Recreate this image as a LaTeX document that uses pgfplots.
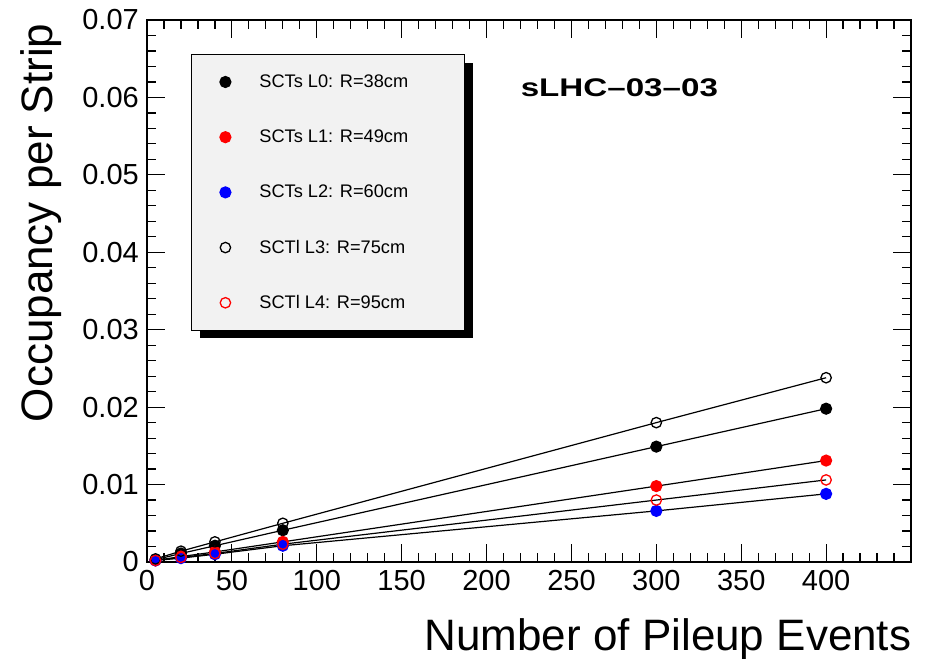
\documentclass[border=0pt]{standalone}
\usepackage{pgfplots}
\pgfplotsset{compat=1.18}
\usepackage{graphicx}
\usepackage{fontspec}
\setmainfont{Liberation Sans}
\definecolor{legfill}{gray}{0.95}
\begin{document}
\begin{tikzpicture}[x=1pt,y=1pt]
\useasboundingbox (0,0) rectangle (928,658);
\begin{axis}[
 at={(147pt,96pt)}, anchor=south west,
 scale only axis, width=764pt, height=542pt,
 xmin=0, xmax=450, ymin=0, ymax=0.07,
 clip=false,
 axis line style={line width=1.5pt},
 tick align=inside, tick pos=both,
 major tick length=18pt, minor tick length=9pt,
 every tick/.style={black, line width=1.2pt},
 xtick={0,50,...,400},
 minor xtick={0,10,...,450},
 ytick={0,0.01,0.02,0.03,0.04,0.05,0.06,0.07},
 minor ytick={0,0.002,...,0.07},
 scaled y ticks=false,
 tick label style={font=\fontsize{29}{34}\selectfont, /pgf/number format/assume math mode=true, inner sep=0pt},
 yticklabel style={/pgf/number format/fixed, /pgf/number format/precision=2, xshift=-8pt},
 xticklabel style={yshift=-8pt},
 xlabel={Number of Pileup Events},
 ylabel={Occupancy per Strip},
 label style={font=\fontsize{44}{50}\selectfont},
 xlabel style={at={(axis description cs:1.005,-0.1624)}, anchor=base east},
 ylabel style={at={(axis description cs:-0.1243,1.0)}, anchor=base east},
 legend style={at={(axis description cs:0.0572,0.9373)}, anchor=north west,
   draw=black, line width=0.8pt, fill=legfill,
   inner sep=0pt, row sep=0pt, column sep=0pt,
   nodes={inner sep=0pt},
   font=\fontsize{18.2}{22}\selectfont,
   cells={anchor=west}},
 legend image code/.code={\path[draw=none,fill=none] (-34.3pt,-27.6pt) rectangle (34pt,27.6pt); \draw[#1] plot coordinates {(0pt,0pt)};},
 legend cell align=left,
]
\fill[black] (axis description cs:0.069,0.9207) rectangle (axis description cs:0.4267,0.413);
\addplot[black, line width=1.2pt, mark=*, mark size=5.5pt, mark options={solid, fill=black, draw=black}]
 coordinates {(5,0.0003) (20,0.0011) (40,0.0021) (80,0.0041) (300,0.0149) (400,0.0198)};
\addlegendentry{\makebox[205pt][l]{SCTs L0: R=38cm}}
\addplot[black, line width=1.2pt, mark=*, mark size=5.5pt, mark options={solid, fill=red, draw=red}]
 coordinates {(5,0.0002) (20,0.0007) (40,0.0013) (80,0.0026) (300,0.0098) (400,0.0131)};
\addlegendentry{\makebox[205pt][l]{SCTs L1: R=49cm}}
\addplot[black, line width=1.2pt, mark=*, mark size=5.5pt, mark options={solid, fill=blue, draw=blue}]
 coordinates {(5,0.0002) (20,0.0005) (40,0.0010) (80,0.0021) (300,0.0066) (400,0.0088)};
\addlegendentry{\makebox[205pt][l]{SCTs L2: R=60cm}}
\addplot[black, line width=1.2pt, mark=o, mark size=5.2pt, mark options={solid, draw=black, line width=1.3pt}]
 coordinates {(5,0.0004) (20,0.0014) (40,0.0026) (80,0.0050) (300,0.0180) (400,0.0238)};
\addlegendentry{\makebox[205pt][l]{SCTl L3: R=75cm}}
\addplot[black, line width=1.2pt, mark=o, mark size=5.2pt, mark options={solid, draw=red, line width=1.3pt}]
 coordinates {(5,0.0002) (20,0.0006) (40,0.0011) (80,0.0023) (300,0.0080) (400,0.0106)};
\addlegendentry{\makebox[205pt][l]{SCTl L4: R=95cm}}
\node[anchor=base west, font=\fontsize{25.5}{30}\selectfont\bfseries, inner sep=0pt] at (axis description cs:0.489,0.858) {\scalebox{1.3}[1]{sLHC--03--03}};
\end{axis}
\end{tikzpicture}
\end{document}
